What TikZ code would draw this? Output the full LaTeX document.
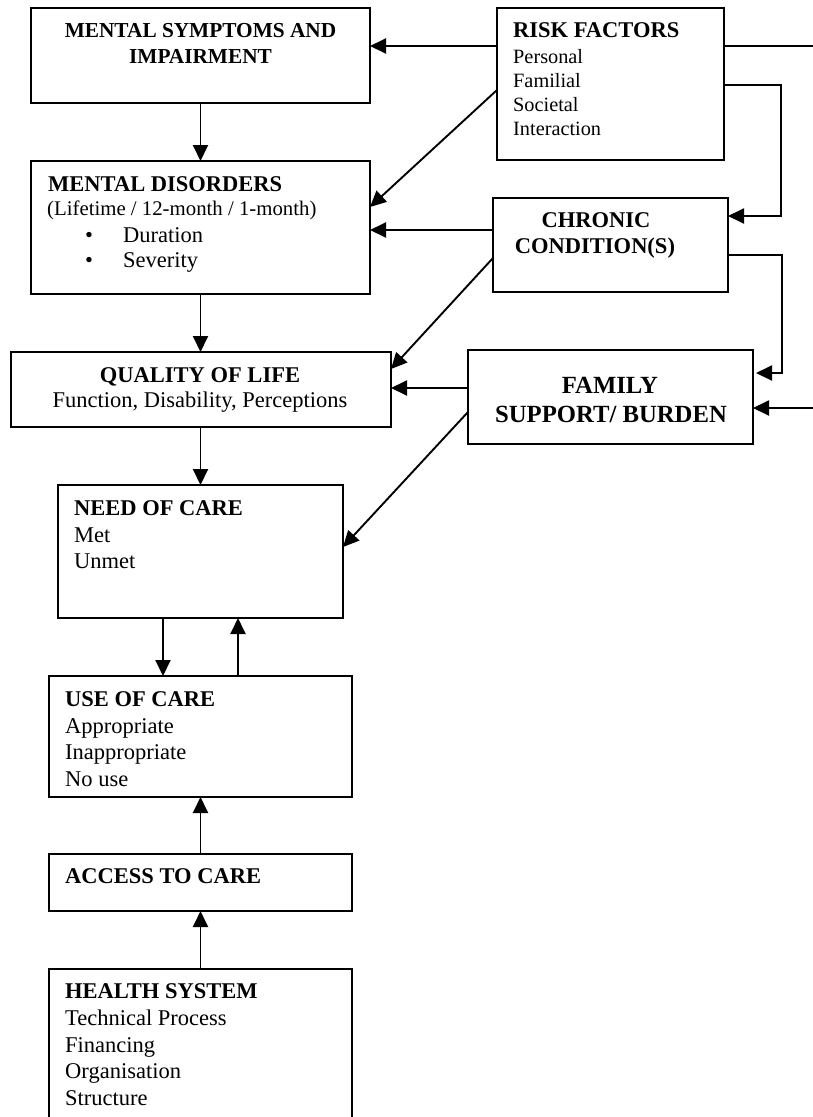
\documentclass[tikz,border=0pt]{standalone}
\usepackage{fontspec}
\setmainfont{Liberation Serif}
\usetikzlibrary{arrows.meta}
\begin{document}
\begin{tikzpicture}[x=1pt,y=-1pt,
  box/.style={draw, line width=1.9pt, anchor=north west, inner sep=0pt, outer sep=0pt},
  conn/.style={line width=1.9pt, -{Triangle[length=16pt,width=15pt]}},
  hd/.style={font=\bfseries\fontsize{22.5}{27}\selectfont, inner sep=0pt},
  hdl/.style={hd, anchor=base west},
  hdc/.style={hd, anchor=base},
  tx/.style={font=\fontsize{22.5}{27}\selectfont, inner sep=0pt, anchor=base west},
  txs/.style={font=\fontsize{20.3}{24}\selectfont, inner sep=0pt, anchor=base west}]
\useasboundingbox (0,0) rectangle (813,1117);
\fill[white] (0,0) rectangle (813,1117);
\clip (0,0) rectangle (813,1117);

% boxes
\node[box, minimum width=339pt, minimum height=95pt]  (ms) at (31,8) {};
\node[box, minimum width=339pt, minimum height=133pt] (md) at (31,161) {};
\node[box, minimum width=227pt, minimum height=152pt] (rf) at (497,8) {};
\node[box, minimum width=235pt, minimum height=94pt]  (cc) at (493,198) {};
\node[box, minimum width=285pt, minimum height=94pt]  (fs) at (468,350) {};
\node[box, minimum width=380pt, minimum height=75pt]  (ql) at (11,352) {};
\node[box, minimum width=285pt, minimum height=133pt] (nc) at (58,485) {};
\node[box, minimum width=303pt, minimum height=121pt] (uc) at (49,676) {};
\node[box, minimum width=303pt, minimum height=57pt]  (ac) at (49,854) {};
\node[box, minimum width=303pt, minimum height=170pt] (hs) at (49,969) {};

% texts
\node[hdc, font=\bfseries\fontsize{21.3}{25}\selectfont] (ms1) at (200.5,37) {MENTAL SYMPTOMS AND};
\node[hdc, font=\bfseries\fontsize{21.3}{25}\selectfont] (ms2) at (200.5,63) {IMPAIRMENT};

\node[hdl] (md1) at (48,191) {MENTAL DISORDERS};
\node[tx, font=\fontsize{20.8}{25}\selectfont] (md2) at (47,215) {(Lifetime / 12-month / 1-month)};
\node[tx, anchor=base] (mdb1) at (89,242) {•};
\node[tx] (md3) at (123,242) {Duration};
\node[tx, anchor=base] (mdb2) at (89,267) {•};
\node[tx] (md4) at (123,267) {Severity};

\node[hdl] (rf1) at (513,37) {RISK FACTORS};
\node[txs] (rf2) at (513,63) {Personal};
\node[txs] (rf3) at (513,87) {Familial};
\node[txs] (rf4) at (513,111) {Societal};
\node[txs] (rf5) at (513,135) {Interaction};

\node[hdc] (cc1) at (596,227) {CHRONIC};
\node[hdc] (cc2) at (595,253) {CONDITION(S)};

\node[hdc, font=\bfseries\fontsize{24.7}{29}\selectfont] (fs1) at (610,393) {FAMILY};
\node[hdc, font=\bfseries\fontsize{24.7}{29}\selectfont] (fs2) at (611,422) {SUPPORT/ BURDEN};

\node[hdc] (ql1) at (200,382) {QUALITY OF LIFE};
\node[tx, anchor=base] (ql2) at (200,407) {Function, Disability, Perceptions};

\node[hdl] (nc1) at (74,515) {NEED OF CARE};
\node[tx] (nc2) at (74,542) {Met};
\node[tx] (nc3) at (74,568) {Unmet};

\node[hdl] (uc1) at (65,706) {USE OF CARE};
\node[tx] (uc2) at (65,733) {Appropriate};
\node[tx] (uc3) at (65,759) {Inappropriate};
\node[tx] (uc4) at (65,786) {No use};

\node[hdl] (ac1) at (65,883) {ACCESS TO CARE};

\node[hdl] (hs1) at (65,998) {HEALTH SYSTEM};
\node[tx] (hs2) at (65,1025) {Technical Process};
\node[tx] (hs3) at (65,1052) {Financing};
\node[tx] (hs4) at (65,1078) {Organisation};
\node[tx] (hs5) at (65,1105) {Structure};

% connectors on the right
\draw[conn] (rf.west |- 0,46) -- (ms.east |- 0,46);
\draw[conn] (rf.east |- 0,46) -- (850,46) |- (fs.east |- 0,408);
\draw[conn] (rf.east |- 0,85) -- (781,85) |- (cc.east |- 0,216);
\draw[conn] (rf.west |- 0,90) -- (md.east |- 0,207);
\draw[conn] (cc.west |- 0,230) -- (md.east |- 0,230);
\draw[conn] (cc.west |- 0,258) -- (ql.east |- 0,369);
\draw[conn, shorten >=3pt] (cc.east |- 0,255) -- (782,255) |- (fs.east |- 0,373);
\draw[conn] (fs.west |- 0,388) -- (ql.east |- 0,388);
\draw[conn] (fs.west |- 0,412) -- (nc.east |- 0,547);

% vertical chain
\draw[conn] (ms.south) -- (md.north);
\draw[conn] (md.south) -- (md.south |- ql.north);
\draw[conn] (ql.south -| nc.north) -- (nc.north);
\draw[conn] (nc.south -| 163,0) -- (uc.north -| 163,0);
\draw[conn] (uc.north -| 238,0) -- (nc.south -| 238,0);
\draw[conn] (ac.north) -- (uc.south);
\draw[conn] (hs.north) -- (ac.south);
\end{tikzpicture}
\end{document}
